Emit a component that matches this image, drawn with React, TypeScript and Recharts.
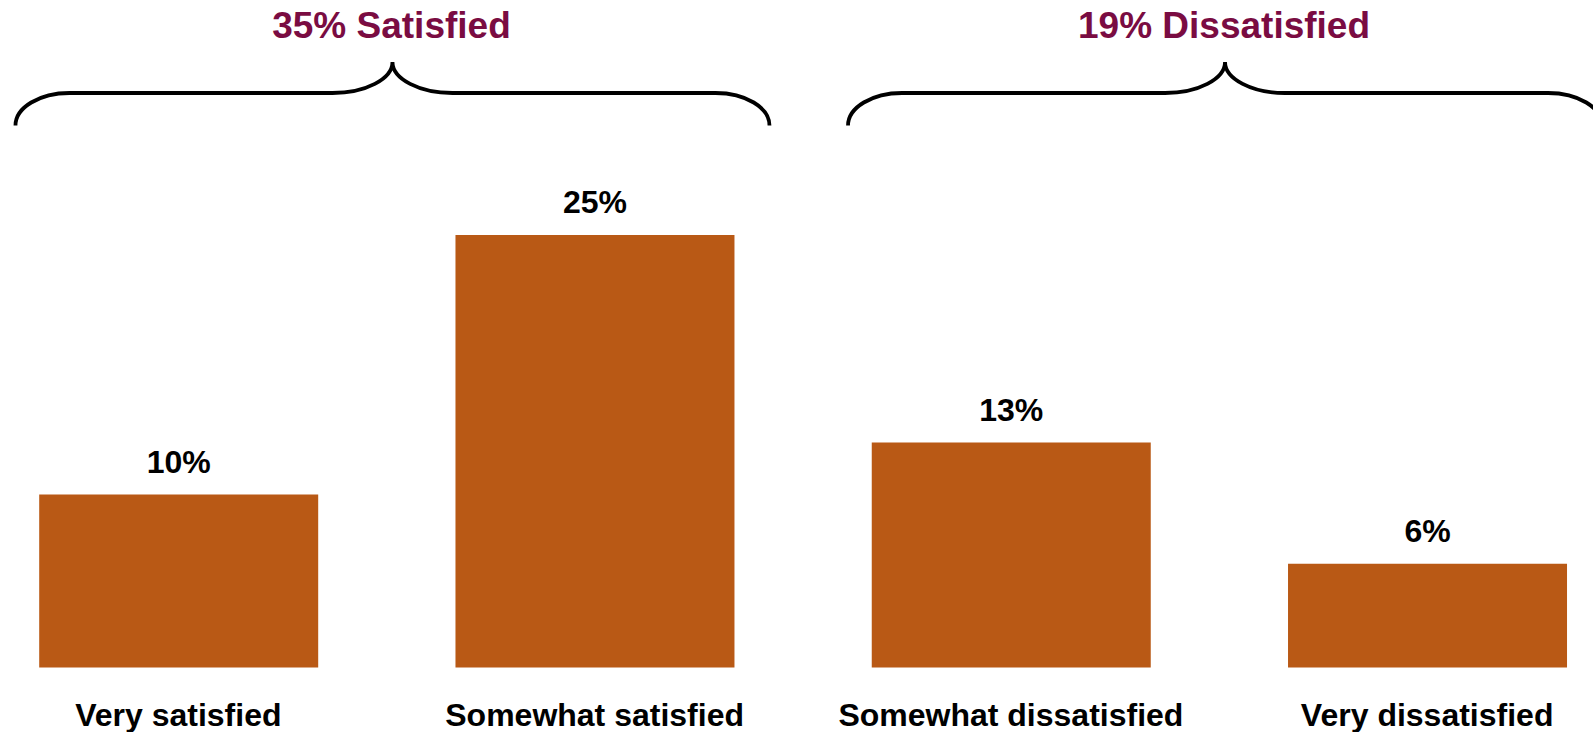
import React from 'react';
import { BarChart, Bar, XAxis, YAxis, LabelList } from 'recharts';

const categories = ['Very satisfied', 'Somewhat satisfied', 'Somewhat dissatisfied', 'Very dissatisfied'];
const values = [10, 25, 13, 6];
const groupLabels = ['35% Satisfied', '19% Dissatisfied'];
const groupRanges = [[0, 1], [2, 3]];

const W = 1593;
const H = 732;
const margin = { top: 148.5, right: -42.3, bottom: 0, left: -29.8 };
const font = '"Liberation Sans", Arial, sans-serif';
const barColor = '#B95915';
const groupColor = '#7A0C42';

const data = categories.map((name, i) => ({ name, value: values[i] }));

// brace with a cusp in the middle, ends pointing down
function bracePath(cx: number, half: number) {
  const x0 = cx - half;
  const x1 = cx + half;
  const yEnd = 125.5, yMid = 93, yTop = 62;
  return [
    `M ${x0} ${yEnd}`,
    `C ${x0} ${yEnd - 18} ${x0 + 24} ${yMid} ${x0 + 54} ${yMid}`,
    `L ${cx - 60} ${yMid}`,
    `C ${cx - 27} ${yMid} ${cx} ${yMid - 14} ${cx} ${yTop}`,
    `C ${cx} ${yMid - 14} ${cx + 27} ${yMid} ${cx + 60} ${yMid}`,
    `L ${x1 - 54} ${yMid}`,
    `C ${x1 - 24} ${yMid} ${x1} ${yEnd - 18} ${x1} ${yEnd}`,
  ].join(' ');
}

function CategoryTick(props: any) {
  const { x, y, payload } = props;
  return (
    <text x={x} y={y + 22} textAnchor="middle" fontSize={32} fontWeight={700} fontFamily={font} fill="#000">
      {payload.value}
    </text>
  );
}

export default function App() {
  const plotW = W - margin.left - margin.right;
  const band = plotW / categories.length;
  return (
    <div style={{ position: 'absolute', left: 0, top: 0, width: W, height: H, background: '#fff', overflow: 'hidden' }}>
      <BarChart width={W} height={H} data={data} margin={margin}>
        <XAxis
          dataKey="name"
          axisLine={false}
          tickLine={false}
          height={64.5}
          tickMargin={30}
          interval={0}
          tick={<CategoryTick />}
        />
        <YAxis hide domain={[0, 30]} />
        <Bar dataKey="value" fill={barColor} barSize={279} isAnimationActive={false}>
          <LabelList
            dataKey="value"
            position="top"
            offset={22}
            formatter={(v: any) => `${v}%`}
            style={{ fontSize: 32, fontWeight: 700, fontFamily: font, fill: '#000' }}
          />
        </Bar>
      </BarChart>
      <svg width={W} height={H} style={{ position: 'absolute', left: 0, top: 0, pointerEvents: 'none' }}>
        {groupRanges.map(([a, b], i) => {
          const cx = margin.left + band * ((a + b) / 2 + 0.5) + 6;
          return (
            <g key={i}>
              <text x={cx - 1} y={38} textAnchor="middle" fontSize={37} fontWeight={700} fontFamily={font} fill={groupColor}>
                {groupLabels[i]}
              </text>
              <path d={bracePath(cx, 377)} fill="none" stroke="#000" strokeWidth={3.8} />
            </g>
          );
        })}
      </svg>
    </div>
  );
}
